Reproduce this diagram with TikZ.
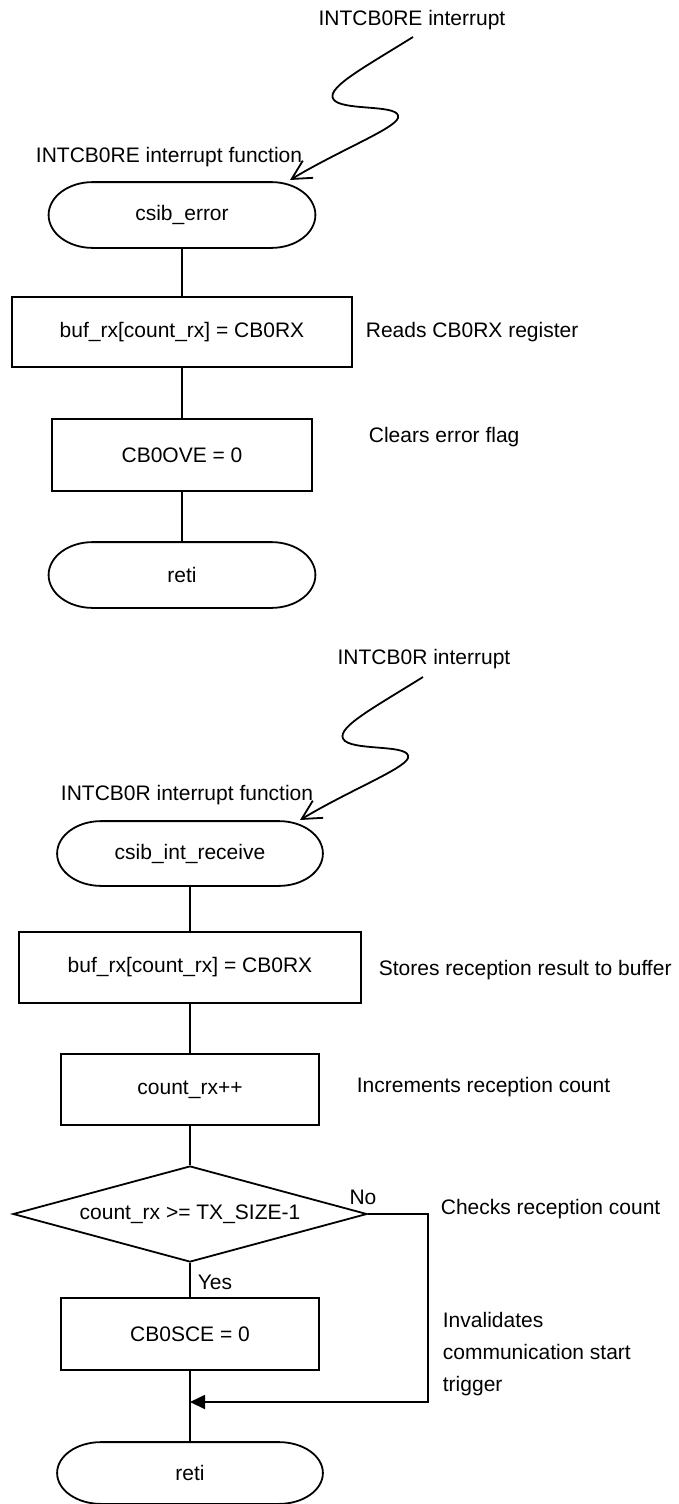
\documentclass[tikz,border=0pt]{standalone}
\usepackage{fontspec}
\setmainfont{Liberation Sans}
\usetikzlibrary{arrows.meta,shapes.geometric,calc}
\newcommand\stadiumline[1]{%
  \draw let \p1=(#1.north), \p2=(#1.south), \n1={abs(\y1-\y2)/2} in
    ([xshift=44pt]#1.north west) -- ([xshift=-44pt]#1.north east)
    arc[start angle=90,end angle=-90,x radius=44pt,y radius=\n1]
    -- ([xshift=44pt]#1.south west)
    arc[start angle=270,end angle=90,x radius=44pt,y radius=\n1] -- cycle;}
\begin{document}
\begin{tikzpicture}[x=1pt,y=-1pt,
  font=\fontsize{21}{25}\selectfont,
  line width=1.8pt,
  term/.style={rectangle, minimum width=265pt, minimum height=64pt, inner sep=0pt},
  proc/.style={draw, rectangle, minimum height=71pt, inner sep=0pt},
  dec/.style={draw, diamond, aspect=3.69, minimum width=354pt, minimum height=96pt, inner sep=0pt},
  note/.style={anchor=west, inner sep=0pt},
  txt/.style={inner sep=0pt},
  zig/.style={line width=1.8pt, -{Straight Barb[length=19pt,width=20pt]}},
  merge/.style={-{Triangle[length=15pt,width=14pt]}}
]
\useasboundingbox (0,0) rectangle (679,1504);

% ---------- section 1 ----------
\node[txt] (i1) at (412,20) {INTCB0RE interrupt};
\coordinate (s1) at (413,37);
\coordinate (e1) at (290,180);
\draw[zig] (s1) .. controls (360,70) and (322,90) .. (335,101)
  .. controls (348,111) and (402,104) .. (398,118)
  .. controls (394,129) and (340,150) .. (e1);
\node[txt, anchor=east] (f1) at (303,157) {INTCB0RE interrupt function};

\node[term] (t1) at (182,215) {csib\_error};
\stadiumline{t1}
\node[proc, minimum width=340pt, minimum height=70pt] (b1) at (182,332) {buf\_rx[count\_rx] = CB0RX};
\node[proc, minimum width=260pt, minimum height=72pt] (b2) at (182,455) {CB0OVE = 0};
\node[term] (r1) at (182,575) {reti};
\stadiumline{r1}

\draw (t1) -- (b1);
\draw (b1) -- (b2);
\draw (b2) -- (r1);

\node[note] (n1) at (365,332) {Reads CB0RX register};
\node[note] (n2) at (368,437) {Clears error flag};

% ---------- section 2 ----------
\node[txt] (i2) at (424,659) {INTCB0R interrupt};
\coordinate (s2) at (423,677);
\coordinate (e2) at (300,820);
\draw[zig] (s2) .. controls (370,710) and (332,730) .. (345,741)
  .. controls (358,751) and (412,744) .. (408,758)
  .. controls (404,769) and (350,790) .. (e2);
\node[txt, anchor=east] (f2) at (314,795) {INTCB0R interrupt function};

\node[term, minimum width=264pt, minimum height=63pt] (t2) at (190,853.5) {csib\_int\_receive};
\stadiumline{t2}
\node[proc, minimum width=342pt] (b3) at (190,967.5) {buf\_rx[count\_rx] = CB0RX};
\node[proc, minimum width=258pt] (b4) at (190,1089.5) {count\_rx++};
\node[dec] (d1) at (190,1214) {count\_rx >= TX\_SIZE-1};
\node[proc, minimum width=258pt, minimum height=72pt] (b5) at (190,1334) {CB0SCE = 0};
\node[term, minimum width=264pt, minimum height=60pt] (r2) at (190,1473) {reti};
\stadiumline{r2}

\draw (t2) -- (b3);
\draw (b3) -- (b4);
\draw (b4) -- (d1);
\draw (d1) -- (b5);
\draw (b5) -- (r2);

\coordinate (c1) at (428,1214);
\coordinate (c2) at (428,1402);
\coordinate (m) at (190,1402);
\draw[merge] (d1.east) -- (c1) -- (c2) -- (m);

\node[txt] (no) at (363,1197) {No};
\node[txt] (yes) at (215,1282) {Yes};

\node[note] (n3) at (378,970) {Stores reception result to buffer};
\node[note] (n4) at (356,1087) {Increments reception count};
\node[note] (n5) at (440,1209) {Checks reception count};
\node[note, align=left, font=\fontsize{21}{32}\selectfont] (n6) at (442,1354) {Invalidates\\communication start\\trigger};
\end{tikzpicture}
\end{document}
